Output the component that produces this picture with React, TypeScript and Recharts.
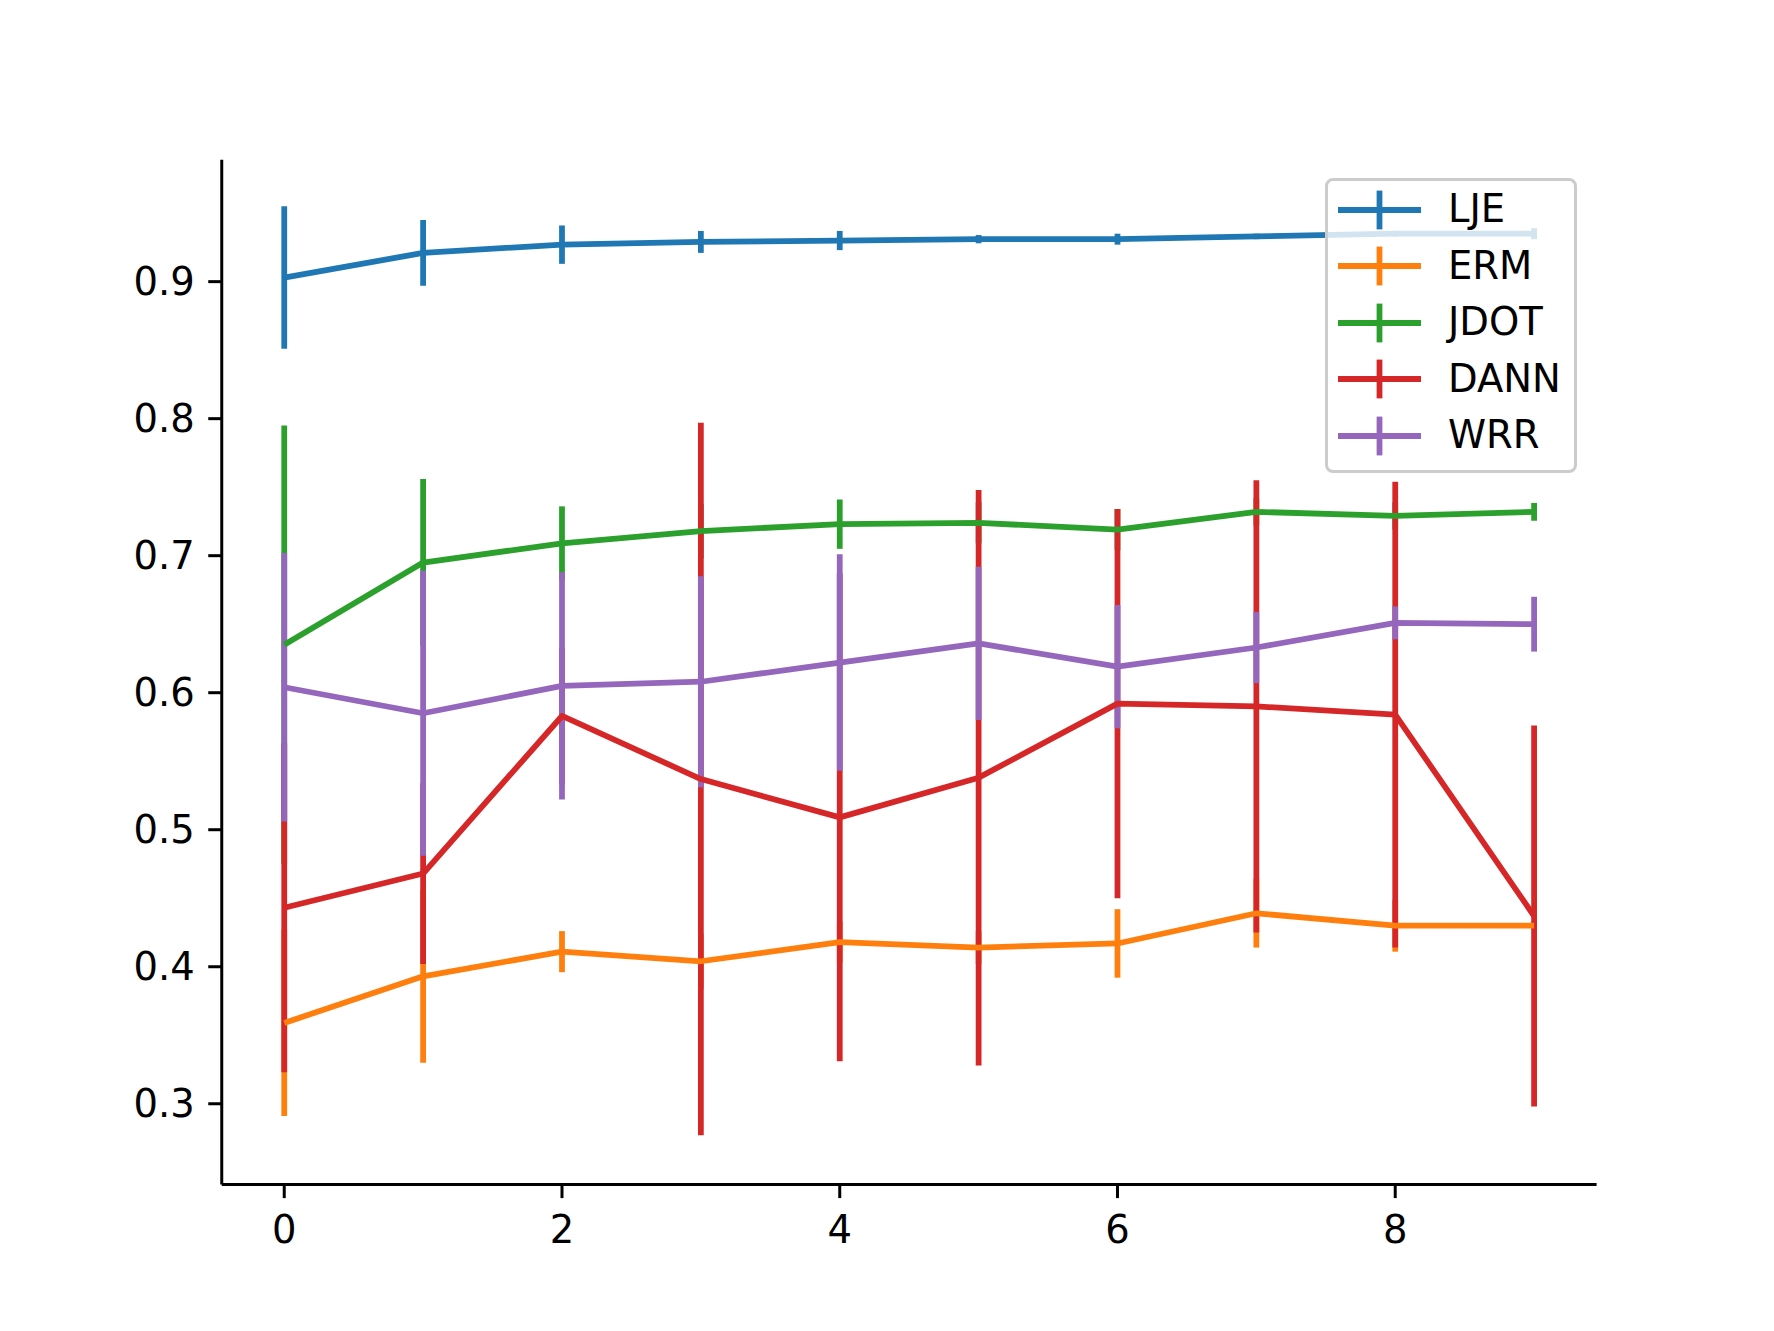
import { LineChart, Line, XAxis, YAxis, ErrorBar, Legend } from 'recharts';

const FONT = '"DejaVu Sans", sans-serif';

const steps = [0, 1, 2, 3, 4, 5, 6, 7, 8, 9];
const xTicks = [0, 2, 4, 6, 8];
const yTicks = [0.3, 0.4, 0.5, 0.6, 0.7, 0.8, 0.9];

const ljeMean = [0.903, 0.921, 0.927, 0.929, 0.930, 0.931, 0.931, 0.933, 0.935, 0.935];
const ljeErr = [0.052, 0.024, 0.014, 0.008, 0.007, 0.003, 0.004, 0.002, 0.002, 0.004];
const ermMean = [0.359, 0.393, 0.411, 0.404, 0.418, 0.414, 0.417, 0.439, 0.430, 0.430];
const ermErr = [0.068, 0.063, 0.015, 0.02, 0.015, 0.012, 0.025, 0.025, 0.019, 0.003];
const jdotMean = [0.635, 0.695, 0.709, 0.718, 0.723, 0.724, 0.719, 0.732, 0.729, 0.732];
const jdotErr = [0.16, 0.061, 0.027, 0.02, 0.018, 0.015, 0.015, 0.01, 0.01, 0.0065];
const dannMean = [0.443, 0.468, 0.583, 0.537, 0.509, 0.538, 0.592, 0.590, 0.584, 0.437];
const dannErr = [0.12, 0.066, 0.05, 0.26, 0.178, 0.21, 0.142, 0.165, 0.17, 0.139];
const wrrMean = [0.604, 0.585, 0.605, 0.608, 0.622, 0.636, 0.619, 0.633, 0.651, 0.650];
const wrrErr = [0.098, 0.104, 0.083, 0.077, 0.079, 0.056, 0.045, 0.026, 0.012, 0.020];

const series = [
  { key: 'lje', name: 'LJE', color: '#1f77b4', mean: ljeMean, err: ljeErr },
  { key: 'erm', name: 'ERM', color: '#ff7f0e', mean: ermMean, err: ermErr },
  { key: 'jdot', name: 'JDOT', color: '#2ca02c', mean: jdotMean, err: jdotErr },
  { key: 'dann', name: 'DANN', color: '#d62728', mean: dannMean, err: dannErr },
  { key: 'wrr', name: 'WRR', color: '#9467bd', mean: wrrMean, err: wrrErr },
];

const data = steps.map((x, i) => {
  const row: Record<string, number> = { x };
  series.forEach(s => {
    row[s.key] = s.mean[i];
    row[s.key + 'Err'] = s.err[i];
  });
  return row;
});

const LW = 5.77;

function LegendBox() {
  return (
    <div
      style={{
        boxSizing: 'border-box',
        width: 252,
        height: 295,
        border: '3.5px solid #cccccc',
        borderRadius: 8,
        background: 'rgba(255,255,255,0.8)',
        fontFamily: FONT,
        fontSize: 38.5,
        color: '#000',
      }}
    >
      {series.map(s => (
        <div key={s.key} style={{ height: 56.5, display: 'flex', alignItems: 'center' }}>
          <svg width={83} height={40} style={{ marginLeft: 9.5, display: 'block' }}>
            <line x1={0} y1={20} x2={83} y2={20} stroke={s.color} strokeWidth={LW} />
            <line x1={41.5} y1={0.6} x2={41.5} y2={39.4} stroke={s.color} strokeWidth={LW} />
          </svg>
          <span style={{ marginLeft: 27.5, lineHeight: 1 }}>{s.name}</span>
        </div>
      ))}
    </div>
  );
}

export default function App() {
  const axisStyle = { stroke: '#000', strokeWidth: 3 };
  const tickStyle = { fill: '#000', fontSize: 38.5, fontFamily: FONT };

  return (
    <div style={{ position: 'absolute', left: 0, top: 0, width: 1774, height: 1331, background: '#fff' }}>
      <LineChart width={1774} height={1331} data={data} margin={{ top: 159.7, right: 177.4, bottom: 0, left: 0 }}>
        <XAxis
          dataKey="x"
          type="number"
          domain={[-0.45, 9.45]}
          ticks={xTicks}
          allowDataOverflow
          height={146.4}
          tickSize={13.5}
          tickMargin={18}
          axisLine={axisStyle}
          tickLine={axisStyle}
          tick={tickStyle}
        />
        <YAxis
          type="number"
          domain={[0.241, 0.989]}
          ticks={yTicks}
          allowDataOverflow
          width={221.75}
          tickSize={13.5}
          tickMargin={13.5}
          axisLine={axisStyle}
          tickLine={axisStyle}
          tick={tickStyle}
          tickFormatter={(v: number) => v.toFixed(1)}
        />
        {/* error bars first so every mean line sits on top of them, as in matplotlib */}
        {series.map(s => (
          <Line
            key={s.key + '-bars'}
            dataKey={s.key}
            stroke="none"
            dot={false}
            activeDot={false}
            legendType="none"
            isAnimationActive={false}
          >
            <ErrorBar dataKey={s.key + 'Err'} width={0} stroke={s.color} strokeWidth={LW} isAnimationActive={false} />
          </Line>
        ))}
        {series.map(s => (
          <Line
            key={s.key}
            type="linear"
            dataKey={s.key}
            name={s.name}
            stroke={s.color}
            strokeWidth={LW}
            strokeLinejoin="round"
            dot={false}
            activeDot={false}
            isAnimationActive={false}
          />
        ))}
        <Legend
          layout="horizontal"
          verticalAlign="middle"
          align="center"
          wrapperStyle={{ left: 1325, top: 178.3, width: 252, height: 295 }}
          content={() => <LegendBox />}
        />
      </LineChart>
    </div>
  );
}
